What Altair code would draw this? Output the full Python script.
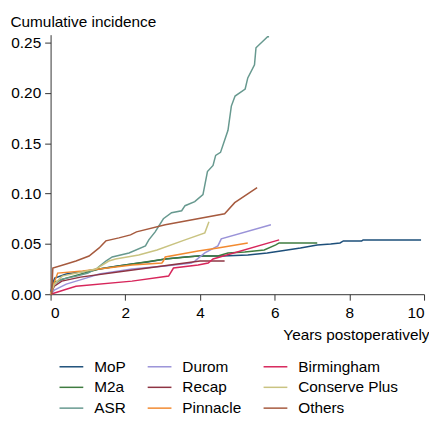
import altair as alt
import pandas as pd

series_order = ["MoP", "M2a", "ASR", "Durom", "Recap", "Pinnacle", "Birmingham", "Conserve Plus", "Others"]
series_colors = ["#1d4f7a", "#3f7c40", "#67998f", "#9a93d8", "#8e3443", "#f28a30", "#d7265b", "#c9c381", "#a65a3e"]

mop_x = [0, 0.05, 0.11, 0.42, 0.8, 1.3, 1.8, 2.18, 2.6, 3.07, 3.6, 3.95, 4.6, 5.28, 5.8, 6.16, 6.69, 7.14, 7.5, 7.75, 7.84, 8.33, 8.37, 9.92]
mop_y = [0, 0.010, 0.016, 0.020, 0.022, 0.025, 0.028, 0.030, 0.032, 0.035, 0.037, 0.038, 0.038, 0.039, 0.041, 0.043, 0.046, 0.049, 0.050, 0.051, 0.053, 0.053, 0.054, 0.054]

m2a_x = [0, 0.11, 0.42, 1.3, 2.18, 3.07, 3.95, 4.48, 4.75, 5.2, 5.72, 6.03, 6.12, 7.14]
m2a_y = [0, 0.012, 0.016, 0.025, 0.030, 0.035, 0.038, 0.038, 0.041, 0.042, 0.044, 0.049, 0.051, 0.051]

asr_x = [0, 0.1, 0.3, 0.7, 1.0, 1.25, 1.48, 1.65, 2.1, 2.54, 2.63, 2.8, 3.02, 3.24, 3.51, 3.6, 3.86, 4.08, 4.2, 4.35, 4.42, 4.55, 4.75, 4.84, 4.94, 5.21, 5.28, 5.46, 5.5, 5.81, 5.85]
asr_y = [0, 0.010, 0.015, 0.018, 0.021, 0.026, 0.033, 0.037, 0.041, 0.048, 0.054, 0.062, 0.075, 0.081, 0.083, 0.088, 0.092, 0.099, 0.122, 0.128, 0.138, 0.141, 0.163, 0.187, 0.197, 0.204, 0.215, 0.228, 0.245, 0.256, 0.256]

durom_x = [0, 0.1, 0.42, 0.95, 1.3, 2.18, 3.07, 3.77, 3.86, 4.13, 4.48, 4.57, 5.9]
durom_y = [0, 0.004, 0.010, 0.016, 0.020, 0.025, 0.028, 0.031, 0.033, 0.041, 0.048, 0.055, 0.069]

recap_x = [0, 0.1, 0.3, 0.8, 1.8, 2.6, 3.4, 4.0, 4.66]
recap_y = [0, 0.008, 0.013, 0.017, 0.022, 0.026, 0.030, 0.033, 0.033]

pinnacle_x = [0, 0.1, 0.19, 0.86, 2.18, 2.98, 3.02, 3.07, 3.95, 4.48, 5.28]
pinnacle_y = [0, 0.012, 0.021, 0.023, 0.029, 0.031, 0.033, 0.037, 0.043, 0.046, 0.051]

birm_x = [0, 0.42, 0.68, 2.18, 3.16, 3.29, 3.95, 4.22, 4.35, 6.12]
birm_y = [0, 0.005, 0.008, 0.013, 0.018, 0.026, 0.029, 0.031, 0.035, 0.054]

conserve_x = [0, 0.1, 0.31, 1.21, 1.56, 1.74, 2.36, 2.85, 3.6, 4.13, 4.24]
conserve_y = [0, 0.010, 0.018, 0.025, 0.033, 0.035, 0.039, 0.044, 0.054, 0.061, 0.072]

others_x = [0, 0.03, 0.06, 0.42, 0.68, 1.03, 1.3, 1.48, 1.83, 2.14, 2.3, 3.07, 4.66, 4.93, 5.53]
others_y = [0, 0.0, 0.026, 0.030, 0.033, 0.038, 0.046, 0.053, 0.056, 0.059, 0.062, 0.069, 0.080, 0.091, 0.106]

all_series = {
    "MoP": (mop_x, mop_y),
    "M2a": (m2a_x, m2a_y),
    "ASR": (asr_x, asr_y),
    "Durom": (durom_x, durom_y),
    "Recap": (recap_x, recap_y),
    "Pinnacle": (pinnacle_x, pinnacle_y),
    "Birmingham": (birm_x, birm_y),
    "Conserve Plus": (conserve_x, conserve_y),
    "Others": (others_x, others_y),
}

rows = []
for name, (xs, ys) in all_series.items():
    for i, (x, y) in enumerate(zip(xs, ys)):
        rows.append({"series": name, "t": x, "ci": y, "i": i})
df = pd.DataFrame(rows)

FONT = "Liberation Sans"
FS = 15.5

chart = alt.Chart(df).mark_line(strokeWidth=1.5).encode(
    x=alt.X("t:Q",
            scale=alt.Scale(domain=[0, 10], nice=False),
            axis=alt.Axis(values=[0, 2, 4, 6, 8, 10], format="d", grid=False,
                          title="Years postoperatively", titleAngle=0,
                          titleAlign="right", titleBaseline="alphabetic",
                          titleX=382, titleY=46, titleFontWeight="normal",
                          titleFontSize=FS, titleFont=FONT,
                          labelFont=FONT, labelFontSize=FS, labelPadding=6,
                          tickSize=6, domainColor="#333333", tickColor="#333333",
                          labelColor="#000000", titleColor="#000000")),
    y=alt.Y("ci:Q",
            scale=alt.Scale(domain=[0, 0.258], nice=False),
            axis=alt.Axis(values=[0, 0.05, 0.10, 0.15, 0.20, 0.25], format=".2f", grid=False,
                          title="Cumulative incidence", titleAngle=0,
                          titleAlign="left", titleBaseline="alphabetic",
                          titleX=-41, titleY=-8, titleFontWeight="normal",
                          titleFontSize=FS, titleFont=FONT,
                          labelFont=FONT, labelFontSize=FS, labelPadding=4,
                          tickSize=6, domainColor="#333333", tickColor="#333333",
                          labelColor="#000000", titleColor="#000000")),
    color=alt.Color("series:N",
                    scale=alt.Scale(domain=series_order, range=series_colors),
                    sort=series_order,
                    legend=alt.Legend(title=None, orient="none", legendX=10, legendY=324,
                                      columns=3, symbolType="M-1.2,0H1.2", symbolSize=400,
                                      symbolStrokeWidth=1.5, labelFont=FONT, labelFontSize=FS,
                                      labelOffset=12, columnPadding=19, rowPadding=1,
                                      padding=0, labelColor="#000000")),
    order="i:Q",
).properties(
    width=377, height=262,
    autosize=alt.AutoSizeParams(type="none"),
    padding={"left": 43, "top": 25, "right": 5, "bottom": 120},
).configure_view(stroke=None)

chart.save("out.html", embed_options={"renderer": "svg", "actions": False})
